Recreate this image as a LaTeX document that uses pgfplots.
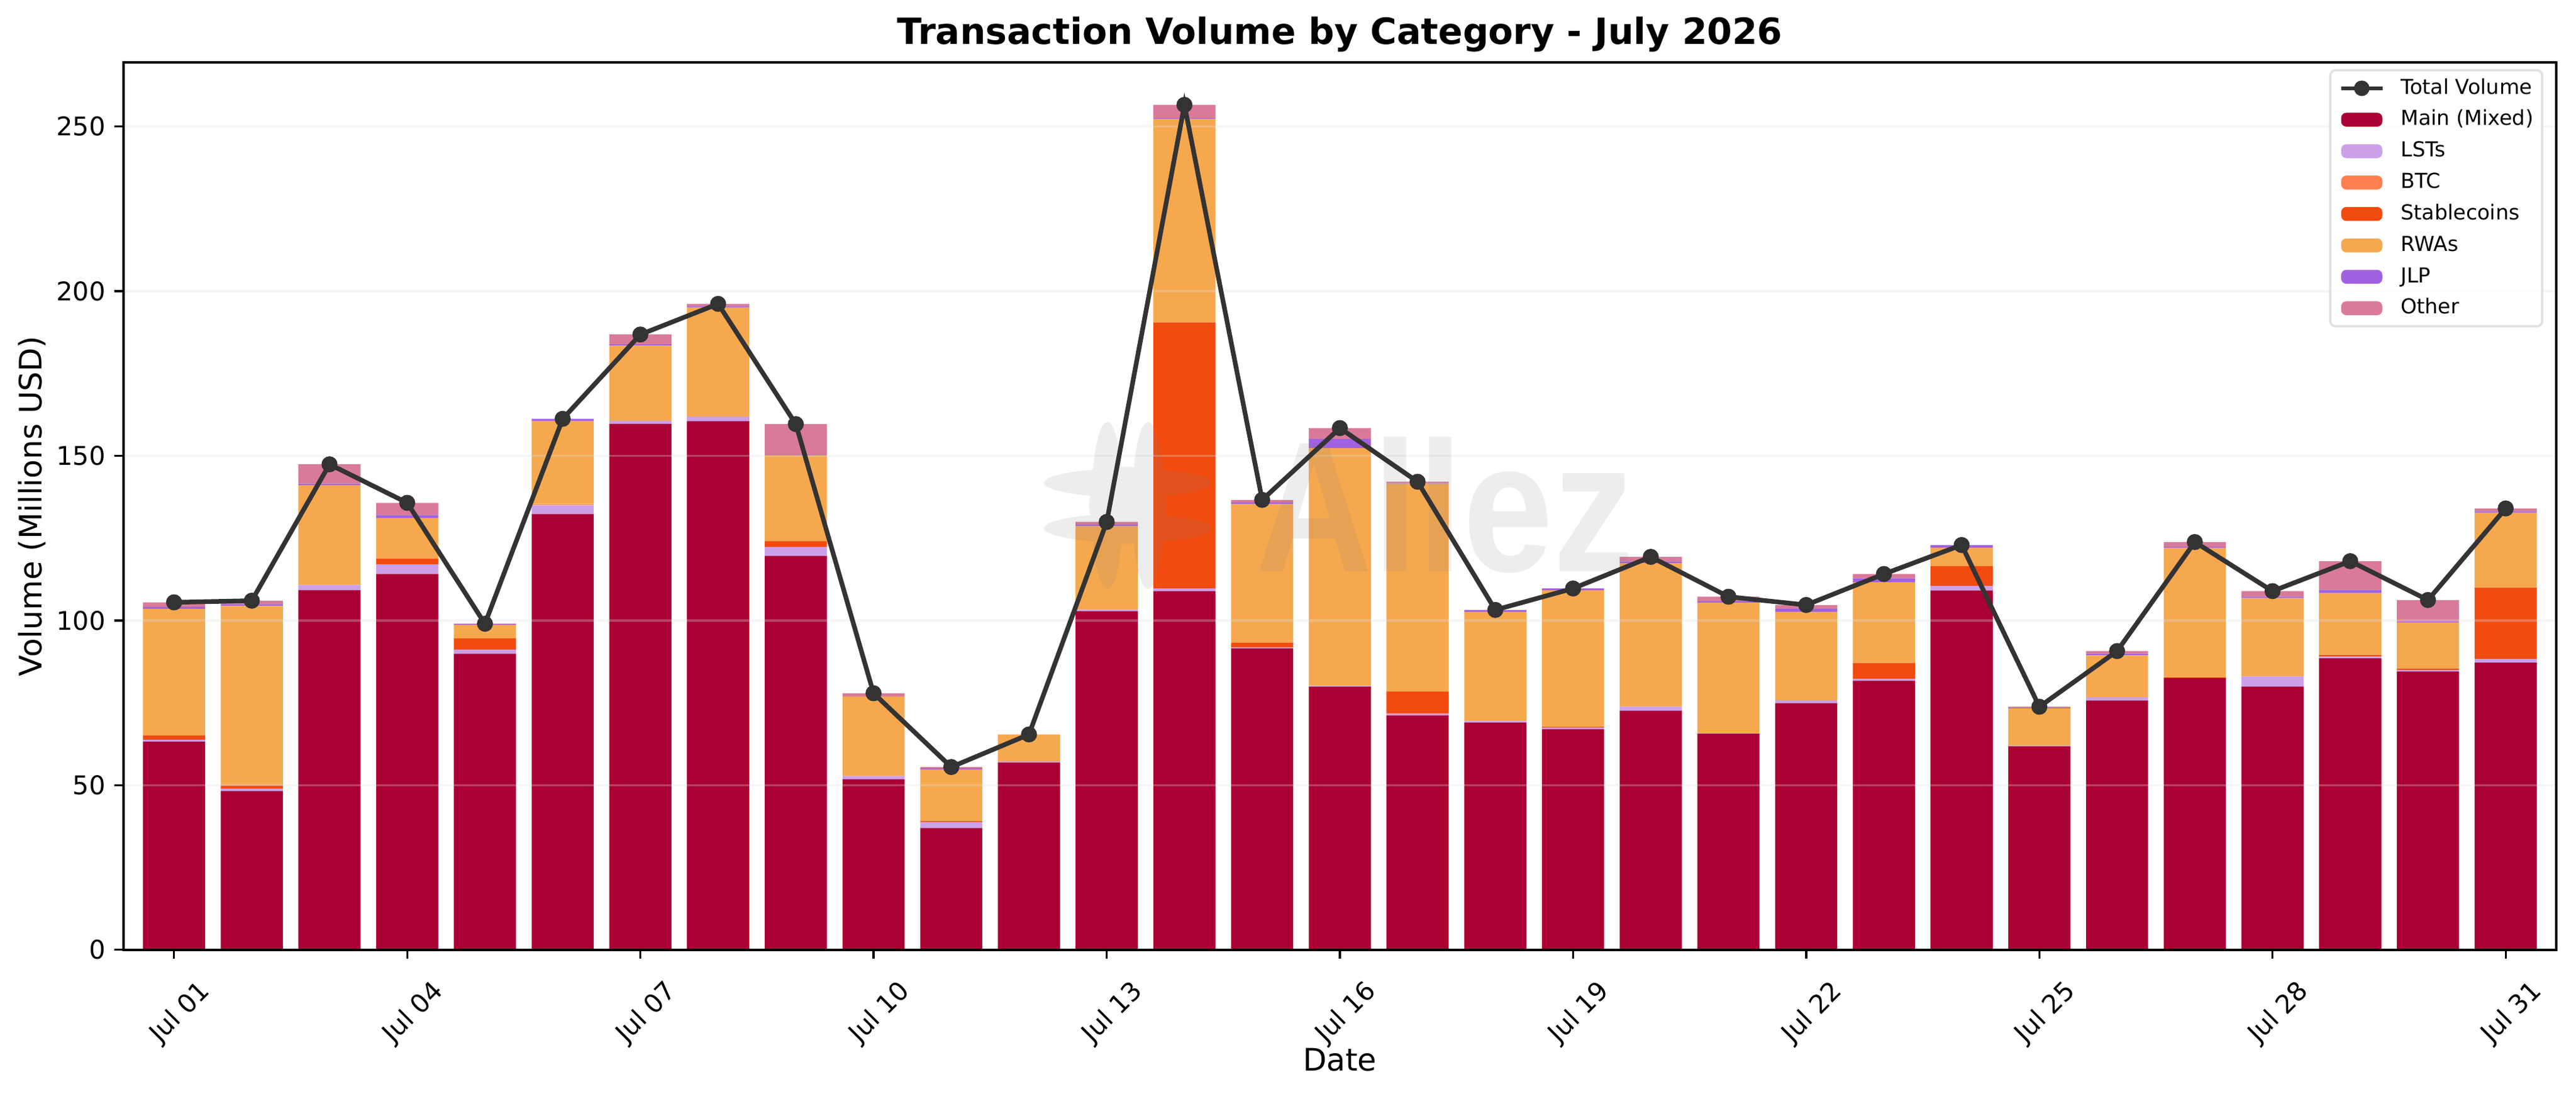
\documentclass[border=0pt]{standalone}
\usepackage{fontspec}
\setmainfont{DejaVu Sans}
\newfontfamily\wmfont{Liberation Sans}
\usepackage{pgfplots}
\usepackage{pgfplotstable}
\pgfplotsset{compat=1.18}

\definecolor{cmain}{HTML}{AA0034}
\definecolor{clst}{HTML}{CCA0E8}
\definecolor{cbtc}{HTML}{FF7F4F}
\definecolor{cstable}{HTML}{F24B0F}
\definecolor{crwa}{HTML}{F6A84F}
\definecolor{cjlp}{HTML}{A062E0}
\definecolor{cother}{HTML}{D97A99}
\definecolor{cline}{HTML}{333333}
\definecolor{cgrid}{HTML}{DDDDDD}

\pgfplotstableread{
day main lst btc stable rwa jlp other total
1 63.2 0.6 0 1.3 38.4 0.6 1.4 105.5
2 48.2 0.75 0 1.0 54.45 0.5 1.1 106.0
3 109.2 1.6 0 0 30.3 0.4 5.9 147.4
4 114.1 2.9 0 1.8 12.3 0.9 3.7 135.7
5 89.9 1.25 0 3.4 4.15 0.1 0.2 99.0
6 132.3 2.7 0.3 0 25.3 0.6 0 161.2
7 159.7 0.9 0 0 22.8 0.4 3.0 186.8
8 160.5 1.4 0 0 33.1 0.4 0.7 196.1
9 119.6 2.7 0 1.8 26.0 0.2 9.3 159.6
10 51.8 1.0 0 0 24.1 0 1.0 77.9
11 37.0 1.8 0 0.3 15.7 0.3 0.4 55.5
12 56.9 0.3 0 0 8.2 0 0 65.4
13 102.8 0.5 0 0 25.3 0.5 0.8 129.9
14 108.9 0.8 0 80.8 61.7 0.3 4.0 256.5
15 91.5 0.3 0 1.5 42.0 0.5 0.8 136.6
16 79.9 0.3 0 0 72.1 2.8 3.3 158.4
17 71.2 0.5 0 6.7 63.1 0.2 0.4 142.1
18 69.0 0.5 0 0 33.1 0.6 0 103.2
19 67.0 0.5 0 0.2 41.5 0.5 0 109.7
20 72.6 1.2 0 0 43.6 0.5 1.4 119.3
21 65.6 0.2 0 0 39.6 0.4 1.4 107.2
22 74.9 0.9 0 0 26.8 0.9 1.2 104.7
23 81.7 0.5 0 4.9 24.5 1.2 1.3 114.1
24 109.1 1.4 0 6.0 5.6 0.8 0 122.9
25 61.8 0.2 0 0 11.3 0.2 0.3 73.8
26 75.7 1.0 0 0 12.7 0.5 0.8 90.7
27 82.5 0 0 0.3 39.2 0.3 1.5 123.8
28 79.9 3.1 0 0 23.8 0.4 1.7 108.9
29 88.5 0.5 0 0.5 18.8 1.0 8.7 118.0
30 84.5 0.5 0 0.4 14.0 0.2 6.6 106.2
31 87.2 1.1 0 21.7 22.7 0.4 0.9 134.0
}\data

\pgfplotsset{
  base/.style={
    at={(0pt,0pt)}, anchor=south west,
    scale only axis, width=945.1pt, height=344.6pt,
    xmin=0.35, xmax=31.65, ymin=0, ymax=269.4,
  },
  barleg/.style={legend image code/.code={\fill[##1, draw=none, fill opacity=1] (0pt,-2.7pt) rectangle (16pt,2.7pt);}},
  lineleg/.style={legend image code/.code={\draw[mark repeat=2,mark phase=2,##1, opacity=1] plot coordinates {(0pt,0pt) (8pt,0pt) (16pt,0pt)};}},
}

\begin{document}
\begin{tikzpicture}
\useasboundingbox (-48pt,-55.9pt) rectangle (952.8pt,368.84pt);
\begin{axis}[
  base,
  ybar stacked, bar width=0.8,
  xtick={1,4,7,10,13,16,19,22,25,28,31},
  xticklabels={Jul 01,Jul 04,Jul 07,Jul 10,Jul 13,Jul 16,Jul 19,Jul 22,Jul 25,Jul 28,Jul 31},
  ytick={0,50,100,150,200,250},
  xtick pos=bottom, ytick pos=left,
  tick align=outside,
  major tick length=3.5pt,
  major tick style={line width=0.8pt, black},
  axis line style={line width=1pt, black},
  ymajorgrids, xmajorgrids=false,
  major grid style={draw=cgrid, draw opacity=0.3, line width=0.8pt},
  axis on top,
  /pgf/number format/assume math mode=true,
  ticklabel style={font=\fontsize{10}{12}\selectfont},
  xticklabel style={xshift=2.5pt, yshift=-21pt, rotate=45, anchor=center},
  xlabel={Date},
  ylabel={Volume (Millions USD)},
  xlabel style={font=\fontsize{12}{14}\selectfont, at={(axis description cs:0.5,-0.1239)}, anchor=center},
  ylabel style={font=\fontsize{12}{14}\selectfont, at={(axis description cs:-0.03756,0.5)}, anchor=center},
  every axis title shift=0pt,
  title={\bfseries Transaction Volume by Category - July 2026},
  title style={font=\fontsize{14}{17}\selectfont, at={(axis description cs:0.5,1.0319)}, anchor=center, yshift=0pt},
]
\addplot[fill=cmain, draw=none] table[x=day,y=main]{\data};
\addplot[fill=clst, draw=none] table[x=day,y=lst]{\data};
\addplot[fill=cbtc, draw=none] table[x=day,y=btc]{\data};
\addplot[fill=cstable, draw=none] table[x=day,y=stable]{\data};
\addplot[fill=crwa, draw=none] table[x=day,y=rwa]{\data};
\addplot[fill=cjlp, draw=none] table[x=day,y=jlp]{\data};
\addplot[fill=cother, draw=none] table[x=day,y=other]{\data};
\end{axis}
\begin{axis}[
  base, hide axis,
  legend cell align=left,
  legend style={at={(1,1)}, anchor=north east, xshift=-5pt, yshift=-2.6pt,
    draw=black!15, line width=0.9pt, rounded corners=2pt, fill=white, fill opacity=0.8, draw opacity=0.8, text opacity=1,
    font=\fontsize{8}{9.6}\selectfont, inner xsep=3.4pt, inner ysep=3.2pt, row sep=4.6pt,
    nodes={inner sep=0pt, text height=6pt, text depth=1.6pt, anchor=west},
    /tikz/every odd column/.append style={column sep=6.4pt}},
]
% watermark
\fill[gray, opacity=0.14, shift={(axis cs:13.27,134.9)}]
  (7.9pt,0pt) ellipse [x radius=6.2pt, y radius=32.4pt]
  (-7.9pt,0pt) ellipse [x radius=6.2pt, y radius=32.4pt]
  (0pt,8.8pt) ellipse [x radius=32.5pt, y radius=5.6pt]
  (0pt,-8.8pt) ellipse [x radius=32.5pt, y radius=5.6pt]
  (0pt,0pt) ellipse [x radius=15pt, y radius=15pt];
\node[anchor=base west, inner sep=0pt, text=gray, opacity=0.14, font=\wmfont\bfseries\fontsize{72}{80}\selectfont, xscale=0.875] at (axis cs:14.91,114.8) {Allez};
\addlegendimage{lineleg, cline, line width=1.6pt, mark=*, mark size=2.2pt}
\addlegendentry{Total Volume}
\addlegendimage{barleg, fill=cmain}\addlegendentry{Main (Mixed)}
\addlegendimage{barleg, fill=clst}\addlegendentry{LSTs}
\addlegendimage{barleg, fill=cbtc}\addlegendentry{BTC}
\addlegendimage{barleg, fill=cstable}\addlegendentry{Stablecoins}
\addlegendimage{barleg, fill=crwa}\addlegendentry{RWAs}
\addlegendimage{barleg, fill=cjlp}\addlegendentry{JLP}
\addlegendimage{barleg, fill=cother}\addlegendentry{Other}
\addplot[cline, line width=1.8pt, mark=*, mark size=2.2pt, mark options={solid}, forget plot] table[x=day,y=total]{\data};
\end{axis}
\end{tikzpicture}
\end{document}
